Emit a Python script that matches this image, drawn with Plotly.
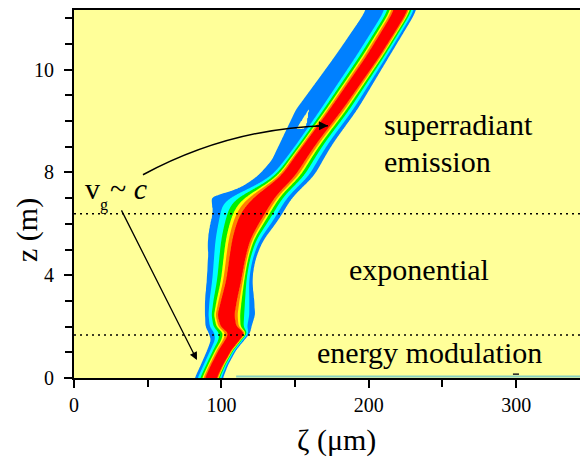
import numpy as np
import plotly.graph_objects as go

# Ridge of the radiation pulse along the undulator: position z (axis units),
# ridge centre, core (red) half width, outer half widths left/right, in um.
z_knot = [0.00, 0.51, 1.09, 1.48, 1.75, 1.99, 2.45, 3.04, 3.82, 4.60, 5.38,
          5.96, 6.43, 6.93, 7.12, 7.32, 7.83, 8.49, 9.15, 10.44, 12.51, 14.34]
center = [92.9, 97.0, 102.5, 107.5, 110.5, 104.8, 103.1, 105.2, 108.5, 110.6, 113.3,
          117.4, 121.4, 127.5, 130.5, 134.5, 145.2, 152.6, 160.8, 177.7, 202.8, 222.5]
red_half = [4.1, 4.1, 4.4, 4.9, 5.6, 5.4, 5.8, 5.4, 5.1, 5.4, 6.1,
            7.5, 8.5, 7.5, 6.8, 6.1, 4.7, 4.4, 4.0, 4.4, 4.6, 4.8]
left_w = [10.9, 10.9, 12.0, 14.5, 19.0, 15.5, 14.2, 16.3, 18.3, 19.7, 21.7,
          24.4, 27.1, 33.9, 28.0, 21.0, 13.6, 11.5, 11.2, 12.9, 14.2, 13.6]
right_w = [8.1, 7.5, 7.5, 8.1, 9.0, 15.5, 19.7, 17.0, 12.2, 12.2, 14.9,
           19.0, 20.4, 19.0, 19.0, 18.3, 17.6, 16.3, 15.0, 14.5, 11.0, 10.5]

# Extent of the low-level blue plume on the trailing (left) side
plume_z = [0.00, 6.43, 6.93, 7.08, 7.22, 7.45, 7.83, 8.49, 9.15, 10.44, 12.51, 14.34]
plume_w = [0.0, 27.1, 34.5, 37.5, 28.0, 23.0, 20.4, 18.3, 21.0, 27.1, 25.8, 23.7]

# Thin gap separating the tip of the plume from the ridge (z, offset, half width, um)
notch_z = [9.70, 10.05, 10.45]
notch_off = [13.8, 16.0, 18.5]
notch_half = [3.2, 1.8, 0.0]

# Colour bands: background, then increasing intensity
band_colors = ["#FFFF99", "#0080FF", "#00FFFF", "#00F000", "#FFFF00", "#FF8000", "#FF0000"]
# Relative positions of the band edges between the core and the outer edge
band_edges = [0.0, 0.15, 0.27, 0.47, 0.72, 1.0, 1.6]
band_levels = [6, 5, 4, 3, 2, 1, 0]

# Phase boundaries (dotted) and axis ticks
boundary_z = [1.675, 6.39]
x_ticks = [0, 100, 200, 300]
y_tickvals = [0, 4, 8, 12]
y_ticktext = ["0", "4", "8", "10"]

FONT = "Liberation Serif, Times New Roman, serif"
BG = band_colors[0]

# Grid for the intensity field
zeta = np.linspace(0, 345, 691)
zz = np.linspace(0, 14.4, 577)
dz = zz[1] - zz[0]


def smooth(raw, sigma):
    half = int(4 * sigma / dz)
    k = np.exp(-0.5 * (np.arange(-half, half + 1) * dz / sigma) ** 2)
    k /= k.sum()
    padded = np.pad(raw, half, mode="edge")
    return np.convolve(padded, k, mode="valid")


# tight smoothing near the entrance (keeps the kink), looser further downstream
blend = np.clip((zz - 2.6) / 1.2, 0, 1)


def profile(vals, knots=z_knot, wide=0.25):
    raw = np.interp(zz, knots, vals)
    out = (1 - blend) * smooth(raw, 0.08) + blend * smooth(raw, wide)
    return out[:, None]


X = zeta[None, :]
c = profile(center)
rh = profile(red_half)
lw = profile(left_w)
rw = profile(right_w)
pw = profile(plume_w, plume_z, 0.09)

D = X - c
d = np.abs(D)
W = np.where(D < 0, lw, rw)
u = (d - rh) / (W - rh)
v_out = np.interp(u, band_edges, band_levels)
v_core = 6 + 0.9 * (1 - d / rh)
field = np.where(d < rh, v_core, v_out)

plume = np.where(D < 0, np.clip(1 + (pw - d) / 1.5, 0, 1.8), 0)
n_off = np.interp(zz, notch_z, notch_off, left=0, right=0)[:, None]
n_half = np.interp(zz, notch_z, notch_half, left=0, right=0)[:, None]
in_notch = (D < 0) & (np.abs(d - n_off) < n_half) & (d > lw)
plume = np.where(in_notch, 0.0, plume)
field = np.maximum(field, plume)

n = len(band_colors)
cscale = []
for k, col in enumerate(band_colors):
    lo = max(0.0, (k - 0.5) / (n - 1))
    hi = min(1.0, (k + 0.5) / (n - 1))
    cscale += [[lo, col], [hi, col]]

fig = go.Figure()
fig.add_trace(go.Contour(
    x=zeta, y=zz, z=field,
    contours=dict(start=1, end=6, size=1, coloring="fill"),
    colorscale=cscale, showscale=False,
    line=dict(width=0), hoverinfo="skip",
))

shapes = []
for zb in boundary_z:
    shapes.append(dict(type="line", xref="paper", x0=0, x1=1, yref="y", y0=zb, y1=zb,
                       line=dict(color="black", width=1.5, dash="2px,4px"), layer="above"))
# faint band along the entrance of the undulator
shapes.append(dict(type="line", xref="x", yref="y", x0=110, x1=345, y0=0.06, y1=0.06,
                   line=dict(color="#86cfc0", width=2), layer="above"))
shapes.append(dict(type="line", xref="x", yref="y", x0=297.8, x1=301.9, y0=0.15, y1=0.15,
                   line=dict(color="#202020", width=1.5), layer="above"))
# curved pointer towards the superradiant spike
shapes.append(dict(type="path", xref="x", yref="y",
                   path="M 46.8,7.91 Q 105.8,9.74 172.3,9.82",
                   line=dict(color="black", width=1.5), layer="above"))

big = dict(family=FONT, size=30, color="black")
ann = [
    dict(x=208.8, y=9.86, text="superradiant", xanchor="left", yanchor="middle"),
    dict(x=208.8, y=8.41, text="emission", xanchor="left", yanchor="middle"),
    dict(x=185.0, y=4.21, text="exponential", xanchor="left", yanchor="middle"),
    dict(x=163.5, y=0.99, text="energy modulation", xanchor="left", yanchor="middle"),
    dict(x=5.9, y=7.38, text="v", xanchor="left", yanchor="middle"),
    dict(x=23.2, y=7.38, text="~ <i>c</i>", xanchor="left", yanchor="middle"),
]
for a in ann:
    a.update(xref="x", yref="y", showarrow=False, font=big)
ann.append(dict(x=16.3, y=6.74, xref="x", yref="y", text="g", showarrow=False,
                xanchor="left", yanchor="middle", font=dict(family=FONT, size=16, color="black")))
# arrow heads
ann.append(dict(x=83.4, y=0.70, ax=31.7, ay=6.58, xref="x", yref="y", axref="x", ayref="y",
                text="", showarrow=True, arrowhead=2, arrowsize=1.2, arrowwidth=1.3,
                arrowcolor="black"))
ann.append(dict(x=172.3, y=9.82, ax=-14, ay=0.3, xref="x", yref="y",
                text="", showarrow=True, arrowhead=2, arrowsize=1.2, arrowwidth=1.5,
                arrowcolor="black"))
# axis titles
ann.append(dict(x=-0.093, y=0.402, xref="paper", yref="paper", text="z (m)", textangle=-90,
                showarrow=False, font=big, xanchor="center", yanchor="middle"))
ann.append(dict(x=0.518, y=-0.168, xref="paper", yref="paper", text="ζ (μm)",
                showarrow=False, font=big, xanchor="center", yanchor="middle"))

tickfont = dict(family=FONT, size=20, color="black")
# y tick labels, right-aligned at a fixed distance from the axis
for tv, tt in zip(y_tickvals, y_ticktext):
    ann.append(dict(x=-0.036, y=tv, xref="paper", yref="y", text=tt, showarrow=False,
                    xanchor="right", yanchor="middle", font=tickfont))

fig.update_layout(
    width=580, height=464,
    margin=dict(l=74, r=0, t=10, b=86),
    paper_bgcolor="white", plot_bgcolor=BG,
    showlegend=False,
    shapes=shapes, annotations=ann,
    xaxis=dict(range=[0, 343.3], showgrid=False, zeroline=False,
               showline=True, linecolor="black", linewidth=2, mirror=True,
               ticks="outside", ticklen=8, tickwidth=1.5, tickcolor="black",
               tickmode="array", tickvals=x_ticks, tickfont=tickfont,
               minor=dict(ticks="outside", ticklen=7, tickwidth=1.5, tickcolor="black",
                          dtick=50, tick0=0)),
    yaxis=dict(range=[0, 14.32], showgrid=False, zeroline=False,
               showline=True, linecolor="black", linewidth=2, mirror=False,
               ticks="outside", ticklen=8, tickwidth=1.5, tickcolor="black",
               tickmode="array", tickvals=y_tickvals, showticklabels=False,
               minor=dict(ticks="outside", ticklen=7, tickwidth=1.5, tickcolor="black",
                          dtick=1, tick0=0)),
)

fig.write_html("out.html")
